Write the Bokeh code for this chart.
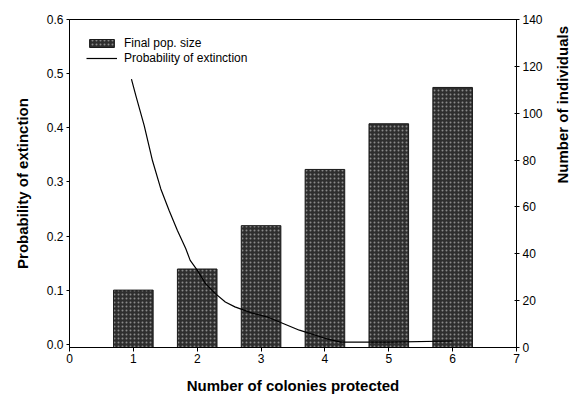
import math
from bokeh.plotting import figure
from bokeh.models import Range1d, LinearAxis, FixedTicker, Legend, LegendItem
from bokeh.embed import file_html
from bokeh.resources import INLINE

# ---- data ----
colonies = [1, 2, 3, 4, 5, 6]
final_pop = [24.5, 33.5, 52, 76, 95.5, 111]          # Number of individuals (right axis)

# probability of extinction curve
curve_x = [0.97, 1.04, 1.17, 1.30, 1.43, 1.56, 1.69, 1.82, 1.89, 2.0, 2.13, 2.28,
           2.44, 2.59, 2.85, 3.11, 3.6, 4.0, 4.25, 5.0, 6.0]
curve_p = [0.490, 0.459, 0.404, 0.339, 0.287, 0.247, 0.210, 0.177, 0.155, 0.137, 0.112, 0.094,
           0.078, 0.069, 0.058, 0.050, 0.026, 0.011, 0.004, 0.004, 0.006]

x_ticks = [0, 1, 2, 3, 4, 5, 6, 7]
x_tick_labels = ["0", "1", "2", "3", "4", "5", "6", "7"]
left_ticks = [0.0, 0.1, 0.2, 0.3, 0.4, 0.5, 0.6]
left_tick_labels = ["0.0", "0.1", "0.2", "0.3", "0.4", "0.5", "0.6"]
right_ticks = [0, 20, 40, 60, 80, 100, 120, 140]
right_title = "Number of individuals"

FONT = "Liberation Sans"

p = figure(width=582, height=402, output_backend="svg", toolbar_location=None,
           x_range=Range1d(0, 7), y_range=Range1d(-0.006, 0.6),
           min_border_left=69, min_border_right=61, min_border_top=19, min_border_bottom=55)
p.extra_y_ranges = {"n": Range1d(0, 140)}
p.xgrid.visible = False
p.ygrid.visible = False
p.outline_line_color = "black"
p.outline_line_width = 1
p.background_fill_color = "white"
p.border_fill_color = "white"

bars = p.vbar(x=colonies, top=final_pop, bottom=0, width=0.62, y_range_name="n",
              fill_color="#2e2e2e", line_color="#1a1a1a", line_width=1,
              hatch_pattern="dot", hatch_color="#8a8a8a", hatch_scale=4, hatch_weight=1)
line = p.line(curve_x, curve_p, line_color="black", line_width=1.2)

def style_axis(ax):
    ax.major_label_text_font = FONT
    ax.major_label_text_font_size = "12px"
    ax.major_label_text_color = "black"
    ax.axis_label_text_font = FONT
    ax.axis_label_text_font_size = "15px"
    ax.axis_label_text_font_style = "bold"
    ax.axis_label_text_color = "black"
    ax.minor_tick_line_color = None
    ax.axis_line_color = "black"
    ax.major_tick_line_color = "black"

xa = p.xaxis[0]
style_axis(xa)
xa.ticker = FixedTicker(ticks=x_ticks)
xa.major_label_overrides = {t: l for t, l in zip(x_ticks, x_tick_labels)}
xa.major_tick_out = 4
xa.major_tick_in = 0
xa.major_label_standoff = 2
xa.axis_label = "Number of colonies protected"
xa.axis_label_standoff = 11

ya = p.yaxis[0]
style_axis(ya)
ya.ticker = FixedTicker(ticks=left_ticks)
ya.major_label_overrides = {t: l for t, l in zip(left_ticks, left_tick_labels)}
ya.major_tick_out = 3
ya.major_tick_in = 0
ya.major_label_standoff = 3
ya.axis_label = "Probability of extinction"
ya.axis_label_standoff = 13

ra = LinearAxis(y_range_name="n", ticker=FixedTicker(ticks=right_ticks))
style_axis(ra)
ra.major_tick_out = 3
ra.major_tick_in = 2
ra.major_label_standoff = 3
p.add_layout(ra, "right")

# second (tick-less) right axis that only carries the title, reading bottom-to-top;
# the rotated label starts at the centre of the axis bounds and runs upward
rt = LinearAxis(y_range_name="n", ticker=FixedTicker(ticks=[]), bounds=(30.0, 46.8))
style_axis(rt)
rt.axis_line_color = None
rt.major_tick_line_color = None
rt.major_tick_out = 0
rt.major_tick_in = 0
rt.axis_label = right_title
rt.axis_label_orientation = math.pi / 2
rt.axis_label_standoff = 17
p.add_layout(rt, "right")

legend = Legend(items=[LegendItem(label="Final pop. size", renderers=[bars]),
                       LegendItem(label="Probability of extinction", renderers=[line])],
                location="top_left")
legend.border_line_color = None
legend.background_fill_alpha = 0
legend.label_text_font = FONT
legend.label_text_font_size = "12px"
legend.label_text_color = "black"
legend.glyph_width = 31
legend.glyph_height = 10
legend.label_height = 12
legend.label_standoff = 7
legend.spacing = 1
legend.margin = 17
legend.padding = 9
p.add_layout(legend)

open("out.html", "w").write(file_html(p, INLINE))
